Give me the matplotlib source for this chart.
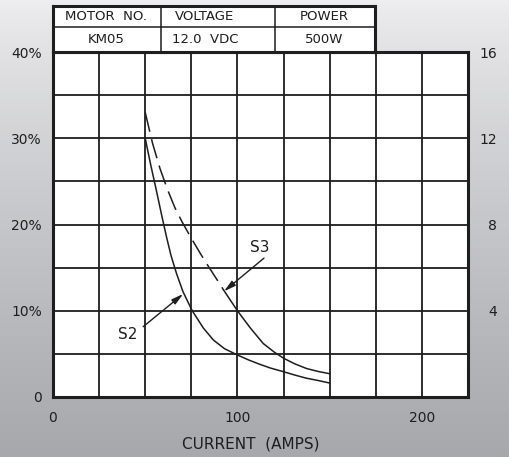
import numpy as np
import matplotlib
matplotlib.use('Agg')
import matplotlib.pyplot as plt

# Curve values (current in amps, percent)
s2_current = [50, 53, 56, 59, 61.5, 64, 67, 70.5, 75.5, 81.5, 87, 93, 100, 106, 112, 118, 125, 131, 137, 144, 150]
s2_pct = [30, 26.9, 24, 21.0, 18.6, 16.4, 14.3, 12.2, 10.0, 8.0, 6.6, 5.6, 4.87, 4.3, 3.8, 3.35, 2.93, 2.55, 2.2, 1.9, 1.62]

s3_current = [50, 54, 58, 62, 66, 70, 75, 80, 85, 90, 92.5, 95, 100, 107, 114, 120, 125, 131, 137.5, 144, 150]
s3_pct = [33, 29.4, 26.5, 24.1, 22.0, 20.3, 18.4, 16.6, 14.9, 13.25, 12.4, 11.6, 10.0, 8.0, 6.2, 5.2, 4.5, 3.85, 3.3, 2.95, 2.7]
s3_dash_end = 10  # S3 drawn dashed up to this point, solid after

x_ticks = [0, 100, 200]
y_ticks = [0, 10, 20, 30, 40]
y_tick_labels = ['0', '10%', '20%', '30%', '40%']
right_ticks = [4, 8, 12, 16]

table_header = ['MOTOR  NO.', 'VOLTAGE', 'POWER']
table_values = ['KM05', '12.0  VDC', '500W']

ink = '#1e1e1e'
plt.rcParams['font.family'] = 'DejaVu Sans'

fig = plt.figure(figsize=(5.09, 4.57), dpi=100)

# gray gradient background
bg = fig.add_axes([0, 0, 1, 1], zorder=-10)
grad = np.linspace(0, 1, 256).reshape(-1, 1) ** 0.8
bg.imshow(grad, aspect='auto', cmap=matplotlib.colors.LinearSegmentedColormap.from_list(
    'bg', ['#eeeef0', '#a7a8ac']), extent=[0, 1, 0, 1])
bg.axis('off')

ax = fig.add_axes([0.1041, 0.1313, 0.8153, 0.7549])
ax.set_facecolor('white')
ax.set_xlim(0, 225)
ax.set_ylim(0, 40)

# grid
for gx in np.arange(25, 225, 25):
    ax.axvline(gx, color=ink, lw=1.3, zorder=1)
for gy in np.arange(5, 40, 5):
    ax.axhline(gy, color=ink, lw=1.3, zorder=1)

# curves
ax.plot(s2_current, s2_pct, color=ink, lw=1.1, zorder=3)
ax.plot(s3_current[:s3_dash_end + 1], s3_pct[:s3_dash_end + 1], color=ink, lw=1.1,
        dashes=(13, 5), zorder=3)
ax.plot(s3_current[s3_dash_end:], s3_pct[s3_dash_end:], color=ink, lw=1.1, zorder=3)

arrow = dict(arrowstyle='-|>,head_length=0.7,head_width=0.18', color=ink, lw=1.0,
             shrinkA=0, shrinkB=0)
ax.annotate('', xy=(70.6, 11.95), xytext=(48.9, 8.15), arrowprops=arrow, zorder=4)
ax.annotate('', xy=(92.7, 12.25), xytext=(114.4, 16.1), arrowprops=arrow, zorder=4)
ax.text(40.5, 7.25, 'S2', ha='center', va='center', fontsize=11, color=ink)
ax.text(112.2, 17.3, 'S3', ha='center', va='center', fontsize=11, color=ink)

for s in ax.spines.values():
    s.set_linewidth(2.2)
    s.set_color(ink)

ax.set_xticks(x_ticks)
ax.set_xticklabels([str(v) for v in x_ticks], fontsize=10, color=ink)
ax.set_yticks(y_ticks)
ax.set_yticklabels(y_tick_labels, fontsize=10, color=ink)
ax.tick_params(length=0, pad=10)
ax.tick_params(axis='y', pad=8)
ax.set_xlabel('CURRENT  (AMPS)', fontsize=11, color=ink)
ax.xaxis.label.set_horizontalalignment('left')
ax.xaxis.set_label_coords((182 - 53) / 415, -0.115)

ax2 = ax.twinx()
ax2.set_ylim(0, 16)
ax2.set_yticks(right_ticks)
ax2.set_yticklabels([str(v) for v in right_ticks], fontsize=10, color=ink, ha='right')
ax2.tick_params(length=0, pad=21)
for s in ax2.spines.values():
    s.set_visible(False)

# spec table above the plot
tab = fig.add_axes([0.1041, 0.8862, 0.6326, 0.1007])
tab.set_xlim(0, 322)
tab.set_ylim(0, 46)
tab.set_facecolor('white')
for s in tab.spines.values():
    s.set_linewidth(2.2)
    s.set_color(ink)
tab.set_xticks([])
tab.set_yticks([])
for cx in [108, 222]:
    tab.plot([cx, cx], [0, 46], color=ink, lw=1.1)
tab.plot([0, 322], [25, 25], color=ink, lw=1.1)
col_x = [53, 152, 271]
for cx, h, v in zip(col_x, table_header, table_values):
    tab.text(cx, 35.5, h, ha='center', va='center', fontsize=9.5, color=ink)
    tab.text(cx, 12.5, v, ha='center', va='center', fontsize=9.5, color=ink)

fig.savefig('out.png', dpi=100)
